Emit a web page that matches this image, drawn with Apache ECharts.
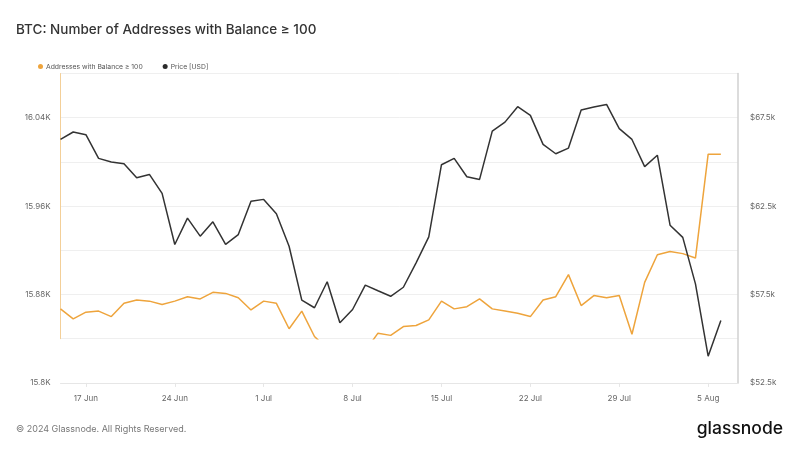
<!DOCTYPE html>
<html>
<head>
<meta charset="utf-8">
<script src="https://cdn.jsdelivr.net/npm/echarts@6/dist/echarts.min.js"></script>
<style>html,body{margin:0;padding:0;background:#fff;}#c{width:800px;height:450px;}</style>
</head>
<body>
<div id="c"></div>
<script>
// Dates: daily from 15 Jun 2024 to 6 Aug 2024 (x = day offset from 15 Jun)
const startDate = [2024, 5, 15];
const dayCount = 53;
const addresses = [15867,15858,15864,15865,15860,15872,15875,15874,15871,15874,
  15878,15876,15882,15881,15877,15866,15874,15872,15849,15865,
  15842,15831,15828,15827,15829,15845,15843,15851,15852,15857,
  15874,15867,15869,15876,15867,15865,15863,15860,15875,15878,
  15898,15870,15879,15877,15879,15844,15891,15916,15919,15917,
  15913,16007,16007];
const price = [66270,66690,66540,65200,64990,64900,64100,64290,63220,60330,
  61820,60800,61610,60330,60890,62780,62880,62070,60230,57180,
  56750,58220,55900,56650,58030,57710,57400,57910,59290,60760,
  64840,65200,64160,64010,66740,67250,68120,67630,65990,65460,
  65780,67930,68100,68250,66880,66270,64730,65380,61420,60730,
  58100,54010,56030];
// tick days (offsets from 15 Jun): 17 Jun, 24 Jun, 1 Jul, 8 Jul, 15 Jul, 22 Jul, 29 Jul, 5 Aug
const tickDays = [2, 9, 16, 23, 30, 37, 44, 51];
const months = ['Jan','Feb','Mar','Apr','May','Jun','Jul','Aug','Sep','Oct','Nov','Dec'];

function dayLabel(off) {
  const d = new Date(startDate[0], startDate[1], startDate[2] + Math.round(off));
  return d.getDate() + ' ' + months[d.getMonth()];
}
const xMax = 53.35;
const addrData = addresses.map((v, i) => [i, v]);
const priceData = price.map((v, i) => [i, v]);

const FONT = 'Inter, "Noto Sans", sans-serif';
const chart = echarts.init(document.getElementById('c'), null, {renderer: 'canvas'});
const gridL = 60.5, gridR = 62, gridTop = 73.5;
chart.setOption({
  animation: false,
  backgroundColor: '#fff',
  title: {
    text: 'BTC: Number of Addresses with Balance \u2265 100',
    left: 11, top: 18,
    textStyle: {fontFamily: FONT, fontSize: 13.5, fontWeight: 500, color: '#333'}
  },
  legend: {
    left: 33, top: 58,
    icon: 'circle', itemWidth: 5, itemHeight: 5, itemGap: 20,
    textStyle: {fontFamily: FONT, fontSize: 6.8, color: '#555', padding: [0,0,0,-2]},
    data: ['Addresses with Balance \u2265 100', 'Price [USD]']
  },
  grid: [
    {left: gridL, right: gridR, top: gridTop, height: 6 * 44.2},
    {left: gridL, right: gridR, top: gridTop, height: 7 * 44.2}
  ],
  xAxis: [
    {type: 'value', gridIndex: 0, min: 0, max: xMax, show: false},
    {type: 'value', gridIndex: 1, min: 0, max: xMax,
      axisLine: {show: true, lineStyle: {color: '#e6e6e6'}},
      axisTick: {show: true, customValues: tickDays, length: 4, lineStyle: {color: '#e6e6e6'}},
      splitLine: {show: false},
      axisLabel: {customValues: tickDays, fontFamily: FONT, fontSize: 8, color: '#666', margin: 12,
        formatter: function (v) { return dayLabel(v); }}
    }
  ],
  yAxis: [
    {type: 'value', gridIndex: 0, min: 15840, max: 16080, position: 'left',
      axisLine: {show: true, lineStyle: {color: '#f3cf98'}},
      axisTick: {show: false}, axisLabel: {show: false}, splitLine: {show: false}},
    {type: 'value', gridIndex: 1, min: 15800, max: 16080, interval: 40, position: 'left',
      axisLine: {show: false}, axisTick: {show: false},
      splitLine: {show: true, lineStyle: {color: '#efefef'}},
      axisLabel: {fontFamily: FONT, fontSize: 8, color: '#666', margin: 10, padding: [0, 0, 4, 0],
        formatter: function (v) { return (Math.round(v - 15800) % 80 === 0) ? (v / 1000) + 'K' : ''; }}},
    {type: 'value', gridIndex: 1, min: 52500, max: 70000, interval: 2500, position: 'right',
      axisLine: {show: true, lineStyle: {color: '#d0d0d0', width: 1.5}}, axisTick: {show: false},
      splitLine: {show: false},
      axisLabel: {fontFamily: FONT, fontSize: 8, color: '#666', margin: 12, padding: [0, 0, 4, 0],
        formatter: function (v) { return (Math.round(v - 52500) % 5000 === 0) ? '$' + (v / 1000) + 'k' : ''; }}}
  ],
  series: [
    {name: 'Addresses with Balance \u2265 100', type: 'line', xAxisIndex: 0, yAxisIndex: 0,
      data: addrData, showSymbol: false, symbol: 'circle', clip: true,
      itemStyle: {color: '#eea43c'}, lineStyle: {color: '#eea43c', width: 1.5}},
    {name: 'Price [USD]', type: 'line', xAxisIndex: 1, yAxisIndex: 2,
      data: priceData, showSymbol: false, symbol: 'circle',
      itemStyle: {color: '#2b2b2b'}, lineStyle: {color: '#333333', width: 1.5}}
  ],
  graphic: [
    {type: 'text', left: 16, top: 425,
      style: {text: '\u00a9 2024 Glassnode. All Rights Reserved.', fontFamily: FONT, fontSize: 9, fill: '#777'}},
    {type: 'text', right: 17, top: 420,
      style: {text: 'glassnode', fontFamily: FONT, fontSize: 17.5, fontWeight: 500, fill: '#111'}}
  ]
});
</script>
</body>
</html>
